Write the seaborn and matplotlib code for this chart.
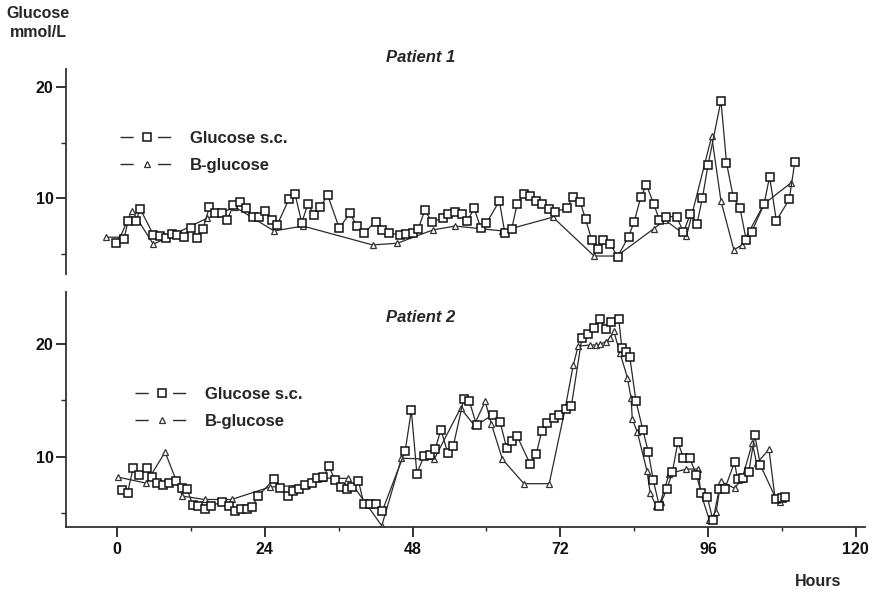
import matplotlib
matplotlib.use("Agg")
import matplotlib.pyplot as plt
from matplotlib.lines import Line2D
from matplotlib.ticker import FixedLocator
import seaborn as sns

# ---------------- data (hours, mmol/L) ----------------
p1_sc_hours = [-0.2, 1.1, 1.8, 3.0, 3.8, 5.9, 6.9, 7.9, 8.9, 9.8, 10.8, 12.0, 13.0, 13.9, 15.0,
               15.9, 17.0, 17.9, 18.9, 20.0, 20.9, 22.0, 23.0, 24.0, 25.1, 26.0, 27.9, 28.9,
               30.0, 31.0, 32.0, 33.0, 34.2, 36.1, 37.8, 39.0, 40.1, 42.0, 43.0, 44.1, 46.0,
               47.0, 48.0, 48.9, 50.0, 51.1, 52.9, 53.8, 54.9, 56.0, 56.9, 58.0, 59.1, 60.0,
               62.1, 63.0, 64.1, 65.0, 66.1, 67.0, 68.1, 69.1, 70.1, 71.1, 73.1, 74.0, 75.2,
               76.1, 77.1, 78.1, 78.9, 80.1, 81.3, 83.1, 84.0, 85.1, 86.0, 87.2, 88.1, 89.2,
               90.9, 92.0, 93.1, 94.2, 95.1, 96.0, 98.1, 99.0, 100.1, 101.2, 102.2, 103.1,
               105.1, 106.0, 107.1, 109.2, 110.1]
p1_sc_glucose = [5.95, 6.3, 8.0, 7.96, 9.0, 6.7, 6.6, 6.4, 6.76, 6.7, 6.5, 7.3, 6.4, 7.2, 9.2,
                 8.65, 8.65, 8.05, 9.4, 9.7, 9.1, 8.3, 8.3, 8.9, 8.05, 7.6, 9.9, 10.4,
                 7.8, 9.5, 8.5, 9.2, 10.3, 7.3, 8.65, 7.5, 6.85, 7.9, 7.15, 6.9, 6.7,
                 6.8, 6.9, 7.2, 8.95, 7.9, 8.2, 8.6, 8.8, 8.56, 7.96, 9.1, 7.3, 7.75,
                 9.76, 6.85, 7.24, 9.5, 10.36, 10.24, 9.76, 9.46, 9.0, 8.8, 9.1, 10.1, 9.7,
                 8.14, 6.25, 5.4, 6.25, 5.9, 4.74, 6.55, 7.9, 10.15, 11.2, 9.46, 8.05, 8.35,
                 8.35, 6.94, 8.56, 7.7, 10.06, 13.0, 18.8, 13.2, 10.1, 9.1, 6.25, 7.0,
                 9.46, 11.95, 8.0, 9.9, 13.3]

p1_b_hours = [-1.8, 0.5, 2.4, 5.9, 14.6, 19.2, 25.5, 30.2, 41.5, 45.5, 51.3, 54.9, 62.6,
              70.8, 77.5, 81.2, 87.2, 89.0, 92.5, 96.6, 98.1, 100.2, 101.5, 105.1, 109.5]
p1_b_glucose = [6.49, 6.5, 8.9, 5.86, 8.2, 9.2, 7.06, 7.5, 5.8, 5.95, 7.15, 7.5, 7.06,
                8.3, 4.8, 4.8, 7.27, 8.05, 6.6, 15.6, 9.76, 5.35, 5.8, 9.5, 11.4]

p2_sc_hours = [0.8, 1.7, 2.6, 3.6, 4.8, 5.7, 6.5, 7.4, 8.5, 9.6, 10.5, 11.4, 12.3, 13.2, 14.3,
               15.2, 17.0, 18.1, 19.2, 20.2, 21.1, 21.9, 22.9, 25.5, 26.5, 27.7, 28.6, 29.6,
               30.5, 31.6, 32.5, 33.5, 34.4, 35.4, 36.3, 37.3, 38.2, 39.2, 40.1, 41.1, 42.1,
               43.1, 46.8, 47.8, 48.7, 49.9, 50.8, 51.7, 52.6, 53.7, 54.6, 56.3, 57.2, 58.4,
               61.0, 62.2, 63.3, 64.1, 65.0, 67.1, 68.1, 69.0, 69.9, 70.9, 71.8, 72.9, 73.8,
               75.5, 76.5, 77.5, 78.4, 79.4, 80.3, 81.5, 82.0, 82.6, 83.3, 84.3, 85.4, 86.3,
               87.1, 88.1, 89.3, 90.2, 91.1, 92.0, 93.0, 94.1, 94.9, 95.9, 96.8, 97.8, 98.7,
               100.3, 100.8, 101.6, 102.6, 103.6, 104.5, 107.1, 108.0, 108.5]
p2_sc_glucose = [7.0, 6.8, 8.97, 8.4, 8.97, 8.23, 7.7, 7.5, 7.65, 7.85, 7.24, 7.1, 5.7, 5.6, 5.4,
                 5.6, 6.0, 5.6, 5.2, 5.4, 5.4, 5.5, 6.5, 8.0, 7.24, 6.5, 6.94, 7.1,
                 7.5, 7.7, 8.1, 8.16, 9.17, 7.9, 7.33, 7.1, 7.27, 7.86, 5.8, 5.8, 5.8,
                 5.2, 10.5, 14.1, 8.5, 10.1, 10.15, 10.7, 12.4, 10.36, 10.9, 15.1, 14.96, 12.8,
                 13.7, 13.1, 10.74, 11.4, 11.8, 9.35, 10.24, 12.3, 12.95, 13.4, 13.7, 14.2, 14.5,
                 20.5, 20.9, 21.4, 22.2, 21.3, 21.9, 22.2, 19.6, 19.3, 18.8, 14.9, 12.4, 10.4,
                 7.9, 5.6, 7.1, 8.6, 11.3, 9.9, 9.9, 8.4, 6.76, 6.4, 4.34, 7.1, 7.1,
                 9.5, 8.0, 8.1, 8.6, 11.9, 9.25, 6.2, 6.3, 6.4]

p2_b_hours = [0.2, 4.7, 7.8, 10.6, 14.2, 18.6, 24.8, 30.9, 33.4, 37.5, 43.0, 46.2, 51.5,
              55.8, 58.0, 59.8, 60.8, 62.6, 66.1, 70.2, 72.8, 74.1, 74.9, 76.9, 77.8, 78.4,
              79.4, 80.1, 80.7, 81.7, 82.9, 83.5, 83.7, 84.5, 86.1, 86.6, 87.6, 88.3, 89.7,
              92.5, 94.4, 94.8, 96.2, 97.3, 98.1, 100.3, 101.5, 103.2, 103.9, 105.9, 106.9, 107.7]
p2_b_glucose = [8.18, 7.65, 10.4, 6.5, 6.2, 6.2, 7.3, 7.5, 8.1, 8.07, 3.87, 9.86, 9.76,
                14.3, 12.8, 14.9, 12.9, 9.76, 7.6, 7.6, 14.3, 18.1, 19.8, 19.9, 19.9, 19.95,
                20.2, 20.5, 21.1, 19.2, 17.0, 15.2, 13.3, 12.2, 8.7, 6.76, 5.6, 6.0, 8.5,
                8.9, 8.9, 6.8, 4.4, 5.05, 7.8, 7.2, 8.0, 11.2, 9.4, 10.65, 6.25, 6.0]

series_labels = ["Glucose s.c.", "B-glucose"]
panel_titles = ["Patient 1", "Patient 2"]
x_ticks = [0, 24, 48, 72, 96, 120]
y_ticks = [10, 20]

# ---------------- style ----------------
sns.set_style("white")
plt.rcParams["font.family"] = ["Liberation Sans", "DejaVu Sans"]
plt.rcParams["font.weight"] = "bold"

W, H = 878, 593
fig = plt.figure(figsize=(W / 100, H / 100), dpi=100)

def fx(px):
    return px / W

def fy(py):
    return 1 - py / H

ax1 = fig.add_axes([fx(66), fy(274), fx(865) - fx(66), fy(69) - fy(274)])
ax2 = fig.add_axes([fx(66), fy(527), fx(865) - fx(66), fy(292) - fy(527)])

line_col = "#2a2a2a"
sq_kw = dict(marker="s", markersize=6.0, markerfacecolor="white", markeredgecolor="#111111",
             markeredgewidth=1.1, color=line_col, linewidth=0.9)
tr_kw = dict(marker="^", markersize=4.8, markerfacecolor="white", markeredgecolor="#333333",
             markeredgewidth=0.9, color=line_col, linewidth=0.9)

for ax, (bh, bv, sh, sv) in zip(
        [ax1, ax2],
        [(p1_b_hours, p1_b_glucose, p1_sc_hours, p1_sc_glucose),
         (p2_b_hours, p2_b_glucose, p2_sc_hours, p2_sc_glucose)]):
    sns.lineplot(x=bh, y=bv, ax=ax, sort=False, estimator=None, legend=False, zorder=2, **tr_kw)
    sns.lineplot(x=sh, y=sv, ax=ax, sort=False, estimator=None, legend=False, zorder=3, **sq_kw)
    ax.set_xlim(-8.3, 121.5)
    ax.set_xlabel("")
    ax.set_ylabel("")
    for s in ["top", "right"]:
        ax.spines[s].set_visible(False)
    ax.spines["left"].set_color("#333333")
    ax.spines["left"].set_linewidth(1.3)
    ax.yaxis.set_major_locator(FixedLocator(y_ticks))
    ax.yaxis.set_minor_locator(FixedLocator([5, 15]))
    ax.tick_params(axis="y", which="major", direction="out", length=7, width=1.2,
                   labelsize=11.5, pad=2, colors="#111111", left=True)
    ax.tick_params(axis="y", which="minor", direction="out", length=3.5, width=1.0, left=True)
    for lab in ax.get_yticklabels():
        lab.set_fontweight("bold")
    ax.set_facecolor("none")

ax1.set_ylim(3.18, 21.65)
ax2.set_ylim(3.76, 24.6)

ax1.spines["bottom"].set_visible(False)
ax1.set_xticks([])

ax2.spines["bottom"].set_color("#333333")
ax2.spines["bottom"].set_linewidth(1.3)
ax2.set_xticks(x_ticks)
ax2.xaxis.set_minor_locator(FixedLocator([12, 36, 60, 84, 108]))
ax2.tick_params(axis="x", which="major", direction="out", length=7, width=1.2,
                labelsize=11.5, pad=4, colors="#111111", bottom=True)
ax2.tick_params(axis="x", which="minor", direction="out", length=3, width=1.0, bottom=True)
for lab in ax2.get_xticklabels():
    lab.set_fontweight("bold")

# legends
def make_handles():
    ls = (0, (9.5, 17.5))
    h1 = Line2D([], [], linestyle=ls, **{k: v for k, v in sq_kw.items() if k != "linewidth"},
                linewidth=1.0)
    h2 = Line2D([], [], linestyle=ls, **{k: v for k, v in tr_kw.items() if k != "linewidth"},
                linewidth=1.0)
    return [h1, h2]

for ax, anchor in [(ax1, (fx(120), fy(131))), (ax2, (fx(135), fy(387)))]:
    ax.legend(make_handles(), series_labels, loc="upper left", bbox_to_anchor=anchor,
              bbox_transform=fig.transFigure, frameon=False,
              handlelength=3.2, handletextpad=1.0, labelspacing=0.72, borderpad=0,
              borderaxespad=0, numpoints=1, prop={"weight": "bold", "size": 12})

# titles and labels
fig.text(fx(421), fy(58), panel_titles[0], ha="center", va="center", fontsize=12,
         fontweight="bold", fontstyle="italic")
fig.text(fx(421), fy(318), panel_titles[1], ha="center", va="center", fontsize=12,
         fontweight="bold", fontstyle="italic")
fig.text(fx(38), fy(23), "Glucose\nmmol/L", ha="center", va="center", fontsize=11.5,
         fontweight="bold", linespacing=1.35)
fig.text(fx(818), fy(582), "Hours", ha="center", va="center", fontsize=11.5, fontweight="bold")

fig.savefig("out.png", dpi=100, facecolor="white")
